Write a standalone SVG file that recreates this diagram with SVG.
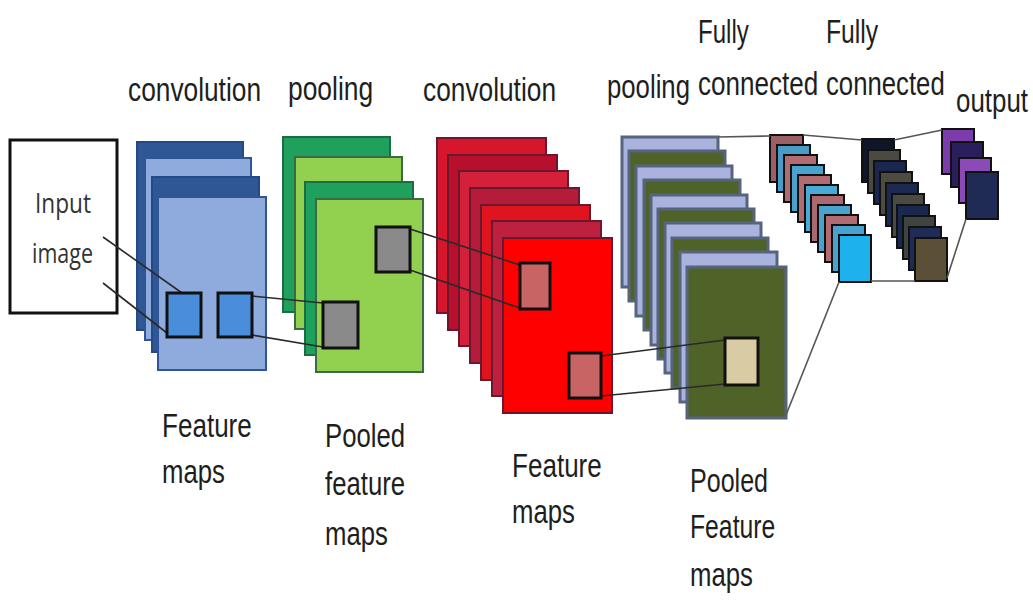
<svg xmlns="http://www.w3.org/2000/svg" width="1033" height="602" viewBox="0 0 1033 602">
<style>
.lbl{font-family:"Liberation Sans",Arial,sans-serif;font-size:33px;fill:#1e1e1e;}
.inp{font-family:"Open Sans","Noto Sans",sans-serif;font-size:27px;fill:#333;}
.bd{fill:#2F5796;stroke:#244A85;stroke-width:2;}
.bl{fill:#8FAADC;stroke:#2F5597;stroke-width:2;}
.gd{fill:#1FA05C;stroke:#1B6E44;stroke-width:2;}
.gl{fill:#92D050;stroke:#3A6B44;stroke-width:2;}
.r{stroke:#6A1830;stroke-width:2;}
.pl{fill:#A9B3DD;stroke:#56647F;stroke-width:3;}
.po{fill:#4F6228;stroke:#56647F;stroke-width:3;}
.fc{stroke:#111;stroke-width:2;}
.sq{stroke:#111;stroke-width:3;}
.ln{stroke:#2a2a2a;stroke-width:1.6;fill:none;}
.ln2{stroke:#555;stroke-width:1.6;fill:none;}
</style>
<rect width="1033" height="602" fill="#fff"/>

<g id="input">
<rect x="10" y="140" width="107" height="173" fill="#fff" stroke="#111" stroke-width="3"/>
<text class="inp" x="35" y="213" textLength="56" lengthAdjust="spacingAndGlyphs">Input</text>
<text class="inp" x="32" y="263" textLength="61" lengthAdjust="spacingAndGlyphs">image</text>
</g>

<g id="conv1">
<rect class="bd" x="137" y="142" width="106" height="188"/>
<rect class="bl" x="145" y="158" width="106" height="182"/>
<rect class="bd" x="152" y="177" width="107" height="175"/>
<rect class="bl" x="158" y="197" width="108" height="173"/>
</g>

<g id="pool1">
<rect class="gd" x="283" y="137" width="107" height="175"/>
<rect class="gl" x="295" y="157" width="107" height="172"/>
<rect class="gd" x="305" y="182" width="108" height="173"/>
<rect class="gl" x="316" y="199" width="107" height="173"/>
</g>

<g id="conv2">
<rect class="r" fill="#D6162A" x="437" y="138" width="109" height="175"/>
<rect class="r" fill="#B8102C" x="448" y="155" width="109" height="175"/>
<rect class="r" fill="#D42038" x="459" y="171" width="109" height="175"/>
<rect class="r" fill="#B51C3A" x="470" y="188" width="109" height="175"/>
<rect class="r" fill="#E0141E" x="481" y="205" width="109" height="175"/>
<rect class="r" fill="#BE2040" x="492" y="221" width="109" height="175"/>
<rect class="r" fill="#FF0000" x="503" y="238" width="109" height="175"/>
</g>

<g id="pool2">
<rect class="pl" x="622" y="137" width="96" height="150"/>
<rect class="po" x="629" y="151" width="96" height="150"/>
<rect class="pl" x="636" y="166" width="96" height="150"/>
<rect class="po" x="644" y="180" width="96" height="150"/>
<rect class="pl" x="651" y="195" width="96" height="150"/>
<rect class="po" x="658" y="209" width="96" height="150"/>
<rect class="pl" x="665" y="223" width="96" height="150"/>
<rect class="po" x="672" y="238" width="96" height="150"/>
<rect class="pl" x="680" y="252" width="97" height="150"/>
<rect class="po" x="687" y="267" width="99" height="151"/>
</g>

<g id="fc1">
<rect class="fc" fill="#9C5F63" x="770" y="135" width="33" height="47"/>
<rect class="fc" fill="#4A9CC8" x="777" y="145" width="33" height="47"/>
<rect class="fc" fill="#B06C70" x="784" y="155" width="33" height="47"/>
<rect class="fc" fill="#4AA3CF" x="791" y="165" width="33" height="47"/>
<rect class="fc" fill="#B06C70" x="798" y="175" width="33" height="47"/>
<rect class="fc" fill="#4AAAD6" x="805" y="185" width="33" height="47"/>
<rect class="fc" fill="#A86A70" x="811" y="195" width="33" height="47"/>
<rect class="fc" fill="#4AA3CF" x="818" y="205" width="33" height="47"/>
<rect class="fc" fill="#B06C70" x="825" y="215" width="33" height="47"/>
<rect class="fc" fill="#4AA3CF" x="832" y="225" width="33" height="47"/>
<rect class="fc" fill="#1DB2EE" x="839" y="235" width="32" height="47"/>
</g>

<g id="fc2">
<rect class="fc" fill="#0E1628" x="862" y="139" width="32" height="43"/>
<rect class="fc" fill="#4A4A42" x="868" y="150" width="32" height="43"/>
<rect class="fc" fill="#1A2850" x="874" y="161" width="32" height="43"/>
<rect class="fc" fill="#4E4C40" x="880" y="172" width="32" height="43"/>
<rect class="fc" fill="#1C2A52" x="886" y="183" width="32" height="43"/>
<rect class="fc" fill="#4A4A42" x="892" y="194" width="32" height="43"/>
<rect class="fc" fill="#1A2850" x="897" y="205" width="32" height="43"/>
<rect class="fc" fill="#3E4440" x="903" y="216" width="32" height="43"/>
<rect class="fc" fill="#1E2C56" x="909" y="227" width="32" height="43"/>
<rect class="fc" fill="#5B5037" x="915" y="238" width="32" height="43"/>
</g>

<g id="output">
<rect class="fc" fill="#7B3DAC" x="942" y="129" width="32" height="45"/>
<rect class="fc" fill="#2A1F5C" x="951" y="142" width="32" height="45"/>
<rect class="fc" fill="#8A4AB8" x="959" y="158" width="32" height="45"/>
<rect class="fc" fill="#1F2B55" x="966" y="172" width="32" height="47"/>
</g>

<g id="connectors">
<line class="ln" x1="103" y1="237" x2="182" y2="293"/>
<line class="ln" x1="103" y1="283" x2="167" y2="333"/>
<line class="ln" x1="252" y1="296" x2="323" y2="303"/>
<line class="ln" x1="252" y1="335" x2="323" y2="347"/>
<line class="ln" x1="410" y1="229" x2="520" y2="265"/>
<line class="ln" x1="410" y1="270" x2="520" y2="308"/>
<line class="ln" x1="601" y1="356" x2="725" y2="340"/>
<line class="ln" x1="601" y1="396" x2="725" y2="384"/>
<line class="ln2" x1="718" y1="137" x2="770" y2="136"/>
<line class="ln2" x1="803" y1="135" x2="862" y2="140"/>
<line class="ln2" x1="894" y1="140" x2="942" y2="130"/>
<line class="ln2" x1="786" y1="415" x2="839" y2="282"/>
<line class="ln2" x1="871" y1="281" x2="915" y2="281"/>
<line class="ln2" x1="947" y1="278" x2="966" y2="219"/>
</g>

<g id="kernels">
<rect class="sq" fill="#4A8EDB" x="167" y="293" width="34" height="44"/>
<rect class="sq" fill="#4A8EDB" x="218" y="293" width="34" height="44"/>
<rect class="sq" fill="#8A8A8A" x="376" y="227" width="34" height="45"/>
<rect class="sq" fill="#8A8A8A" x="323" y="302" width="35" height="46"/>
<rect class="sq" fill="#C86464" stroke="#4A0A0A" x="520" y="263" width="30" height="46"/>
<rect class="sq" fill="#C86464" stroke="#4A0A0A" x="569" y="353" width="32" height="45"/>
<rect class="sq" fill="#D9CBA3" x="725" y="338" width="33" height="47"/>
</g>

<g id="labels">
<text class="lbl" transform="translate(128,101) scale(0.797,1)">convolution</text>
<text class="lbl" transform="translate(288,100) scale(0.8,1)">pooling</text>
<text class="lbl" transform="translate(423,101) scale(0.797,1)">convolution</text>
<text class="lbl" transform="translate(607,98) scale(0.78,1)">pooling</text>
<text class="lbl" transform="translate(698,43) scale(0.73,1)">Fully</text>
<text class="lbl" transform="translate(698,95) scale(0.79,1)">connected</text>
<text class="lbl" transform="translate(826,43) scale(0.75,1)">Fully</text>
<text class="lbl" transform="translate(826,95) scale(0.78,1)">connected</text>
<text class="lbl" transform="translate(956,112) scale(0.785,1)">output</text>

<text class="lbl" transform="translate(162,437) scale(0.79,1)">Feature</text>
<text class="lbl" transform="translate(162,483) scale(0.78,1)">maps</text>
<text class="lbl" transform="translate(325,447) scale(0.78,1)">Pooled</text>
<text class="lbl" transform="translate(325,495) scale(0.78,1)">feature</text>
<text class="lbl" transform="translate(325,545) scale(0.78,1)">maps</text>
<text class="lbl" transform="translate(512,477) scale(0.79,1)">Feature</text>
<text class="lbl" transform="translate(512,523) scale(0.78,1)">maps</text>
<text class="lbl" transform="translate(690,492) scale(0.76,1)">Pooled</text>
<text class="lbl" transform="translate(690,538) scale(0.75,1)">Feature</text>
<text class="lbl" transform="translate(690,586) scale(0.78,1)">maps</text>
</g>
</svg>
